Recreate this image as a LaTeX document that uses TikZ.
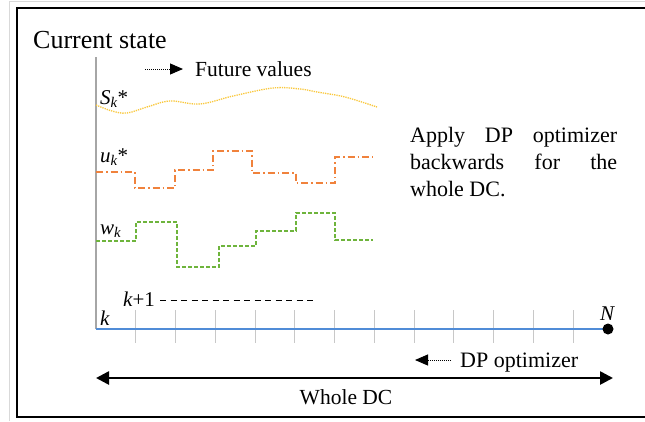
\documentclass[tikz,border=0pt]{standalone}
\usepackage{fontspec}
\setmainfont{Liberation Serif}
\usetikzlibrary{arrows.meta}
\definecolor{sline}{RGB}{250,200,60}
\definecolor{uline}{RGB}{240,130,60}
\definecolor{wline}{RGB}{110,180,60}
\definecolor{kline}{RGB}{80,140,215}
\definecolor{tickc}{RGB}{200,200,200}
\tikzset{
  lbl/.style={inner sep=0pt, font=\fontsize{21}{24}\selectfont},
  bigtip/.style={-{Triangle[length=13pt,width=12pt]}},
}
\begin{document}
\begin{tikzpicture}[x=1pt,y=-1pt]
\useasboundingbox (0,0) rectangle (645,421);
\fill[white] (0,0) rectangle (645,421);
% outer light border and frame
\draw[gray!30, line width=1pt] (9,421) -- (9,1) -- (645,1);
\draw[black, line width=2.2pt] (650,8) -- (17,8) -- (17,417) -- (650,417);

% headings
\node[inner sep=0pt, anchor=base west, font=\fontsize{26}{28}\selectfont] (cur) at (33,48) {Current state};
\coordinate (fa) at (145,69);
\coordinate (fb) at (183,69);
\draw[densely dotted, line width=1pt, -{Triangle[length=13pt,width=11pt]}] (fa) -- (fb);
\node[lbl, anchor=base west, font=\fontsize{21.5}{24}\selectfont] (fut) at (195,76) {Future values};

% time axis
\coordinate (ytop) at (96,57);
\coordinate (org) at (96,329);
\coordinate (endN) at (608,329);
\draw[gray!70, line width=1.4pt] (ytop) -- (org);
\foreach \i in {1,...,12}{
  \draw[tickc, line width=1pt] (96+39.75*\i,310) -- (96+39.75*\i,343);
}
\draw[kline, line width=1.4pt] (org) -- (endN);
\fill (endN) circle (5.5pt);
\node[lbl, anchor=base, font=\fontsize{21}{24}\itshape] (nlab) at (607,320) {N};
\node[lbl, anchor=base west] (klab) at (100,325) {\itshape k};
\node[lbl, anchor=base west] (k1lab) at (123,306) {\itshape k\upshape +1};
\coordinate (da) at (160,300);
\coordinate (db) at (316,300);
\draw[dash pattern=on 6pt off 4.5pt, line width=1pt] (da) -- (db);

% signal labels
\node[lbl, anchor=base west] (slab) at (100,104) {\itshape S\textsubscript{\itshape k}\upshape *};
\node[lbl, anchor=base west] (ulab) at (100,162) {\itshape u\textsubscript{\itshape k}\upshape *};
\node[lbl, anchor=base west] (wlab) at (100,234) {\itshape w\textsubscript{\itshape k}};

% optimal state trajectory
\draw[sline, densely dotted, line width=1.3pt] plot[smooth, tension=0.6] coordinates {
 (96,105) (112,111) (127,113) (147,107) (170,101) (200,104) (233,96) (273,88) (300,89) (317,92) (345,97) (377,107)};

% optimal control sequence
\draw[uline, line width=1.2pt, dash pattern=on 7pt off 3pt on 1.5pt off 3pt]
 (96,172) -- (135,172) -- (135,188) -- (175,188) -- (175,170) -- (213,170) -- (213,151) -- (252,151)
 -- (252,173) -- (296,173) -- (296,183) -- (335,183) -- (335,157) -- (373,157);

% disturbance sequence
\draw[wline, line width=1.2pt, dash pattern=on 4pt off 2pt]
 (96,241) -- (136,241) -- (136,222) -- (177,222) -- (177,267) -- (219,267) -- (219,246) -- (256,246)
 -- (256,231) -- (296,231) -- (296,213) -- (335,213) -- (335,240) -- (373,240);

% explanation
\node[inner sep=0pt, anchor=north west, text width=207pt, align=justify,
      font=\fontsize{22}{27}\selectfont] (apply) at (410,127)
 {Apply DP optimizer backwards for the whole DC.};

% backward optimizer arrow
\coordinate (oa) at (451,360);
\coordinate (ob) at (415,360);
\draw[densely dotted, line width=1pt, -{Triangle[length=13pt,width=11pt]}] (oa) -- (ob);
\node[lbl, anchor=base west, font=\fontsize{22}{24}\selectfont] (dpo) at (460,367) {DP optimizer};

% whole horizon
\coordinate (wa) at (96,378);
\coordinate (wb) at (613,378);
\draw[line width=2.6pt, {Triangle[length=13pt,width=13pt]}-{Triangle[length=13pt,width=13pt]}] (wa) -- (wb);
\node[lbl, anchor=base, font=\fontsize{21.5}{24}\selectfont] (whole) at (346,404) {Whole DC};
\end{tikzpicture}
\end{document}
